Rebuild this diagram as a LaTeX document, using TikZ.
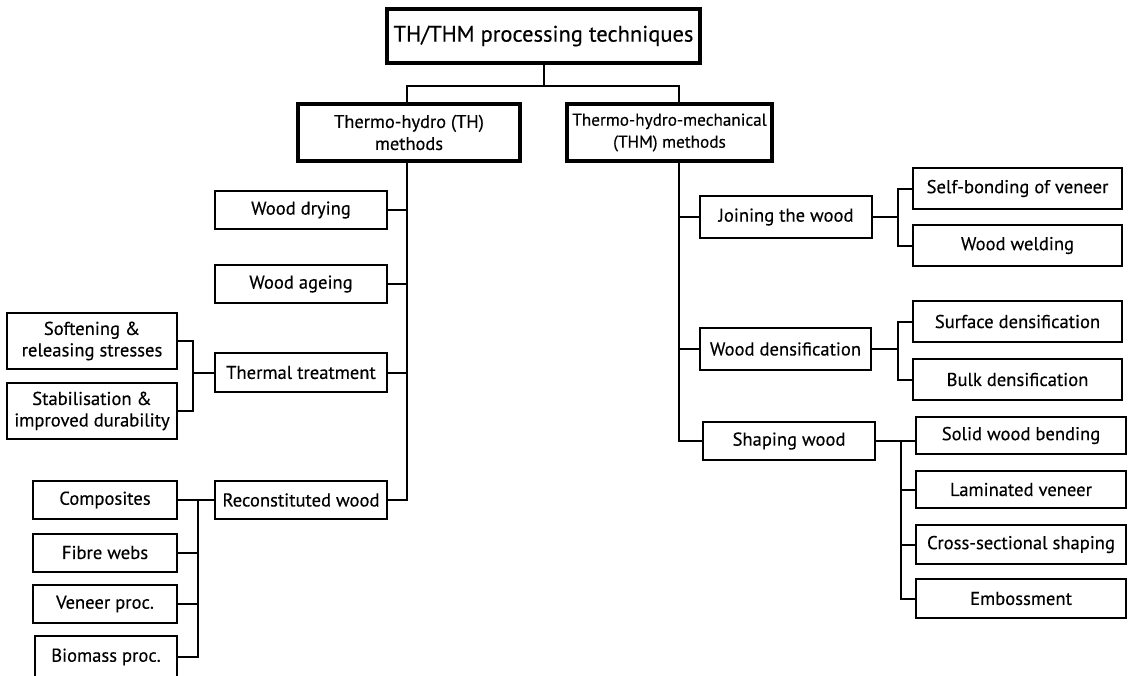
\documentclass[tikz,border=0pt]{standalone}
\usepackage{fontspec}
\setmainfont{PT Sans}[FakeBold=0.35]
\begin{document}
\begin{tikzpicture}[x=1pt,y=-1pt,
  bx/.style={draw, line width=2pt, inner sep=0pt, align=center, font=\fontsize{18.6}{21.5}\selectfont},
  thk/.style={bx, line width=3.4pt},
  ln/.style={line width=2pt}]
\useasboundingbox (0,0) rectangle (1129,675);
% boxes
\node[thk, minimum width=313pt, minimum height=54pt, font=\fontsize{22.5}{26}\selectfont] (top) at (543.5,36) {TH/THM processing techniques};
\node[thk, minimum width=222pt, minimum height=57pt, font=\fontsize{18.4}{22}\selectfont] (th) at (409,132.5) {Thermo-hydro (TH)\\methods};
\node[thk, minimum width=205pt, minimum height=57pt, font=\fontsize{17.2}{22}\selectfont] (thm) at (669.5,132.5) {Thermo-hydro-mechanical\\(THM) methods};
\node[bx, minimum width=172pt, minimum height=38pt] (dry) at (301,210) {Wood drying};
\node[bx, minimum width=172pt, minimum height=38pt] (age) at (301,284) {Wood ageing};
\node[bx, minimum width=172pt, minimum height=39pt] (therm) at (301,372.5) {Thermal treatment};
\node[bx, minimum width=172pt, minimum height=38pt] (recon) at (301,500) {Reconstituted wood};
\node[bx, minimum width=170pt, minimum height=56pt] (soft) at (92,341) {Softening \&\\releasing stresses};
\node[bx, minimum width=170pt, minimum height=56pt] (stab) at (92,411) {Stabilisation \&\\improved durability};
\node[bx, minimum width=144pt, minimum height=38pt] (comp) at (105,500) {Composites};
\node[bx, minimum width=144pt, minimum height=38pt] (fib) at (105,552.5) {Fibre webs};
\node[bx, minimum width=144pt, minimum height=38pt] (ven) at (105,604) {Veneer proc.};
\node[bx, minimum width=142pt, minimum height=42pt] (bio) at (106,657) {Biomass proc.};
\node[bx, minimum width=172pt, minimum height=42pt] (join) at (786,217) {Joining the wood};
\node[bx, minimum width=209pt, minimum height=41pt] (self) at (1017.5,188.5) {Self-bonding of veneer};
\node[bx, minimum width=209pt, minimum height=41pt] (weld) at (1017.5,245.5) {Wood welding};
\node[bx, minimum width=171pt, minimum height=42pt] (dens) at (785.5,349) {Wood densification};
\node[bx, minimum width=209pt, minimum height=41pt] (surf) at (1017.5,321.5) {Surface densification};
\node[bx, minimum width=209pt, minimum height=41pt] (bulk) at (1017.5,379.5) {Bulk densification};
\node[bx, minimum width=172pt, minimum height=38pt] (shape) at (789,441) {Shaping wood};
\node[bx, minimum width=210pt, minimum height=37pt] (solid) at (1021,435.5) {Solid wood bending};
\node[bx, minimum width=210pt, minimum height=37pt] (lam) at (1021,489.5) {Laminated veneer};
\node[bx, minimum width=210pt, minimum height=39pt] (cross) at (1021,544.5) {Cross-sectional shaping};
\node[bx, minimum width=210pt, minimum height=39pt] (emb) at (1021,598.5) {Embossment};
% junction coordinates
\coordinate (jt) at (543.5,86);
\coordinate (thv) at (407,0);
\coordinate (thmv) at (679,0);
\coordinate (tbx) at (193,0);
\coordinate (rbx) at (198,0);
\coordinate (jbx) at (898,0);
\coordinate (sbx) at (901,0);
% connectors
\draw[ln] (top.south) -- (jt);
\draw[ln] (th.north -| thv) -- (thv |- jt) -- (thmv |- jt) -- (thm.north -| thmv);
\draw[ln] (th.south -| thv) |- (recon.east);
\draw[ln] (dry.east) -- (dry.east -| thv);
\draw[ln] (age.east) -- (age.east -| thv);
\draw[ln] (therm.east) -- (therm.east -| thv);
\draw[ln] (therm.west) -- (therm.west -| tbx);
\draw[ln] (soft.east) -- (soft.east -| tbx) -- (stab.east -| tbx) -- (stab.east);
\draw[ln] (recon.west) -- (comp.east);
\draw[ln] (recon.west -| rbx) -- (bio.east -| rbx) -- (bio.east);
\draw[ln] (fib.east) -- (fib.east -| rbx);
\draw[ln] (ven.east) -- (ven.east -| rbx);
\draw[ln] (thm.south -| thmv) |- (shape.west);
\draw[ln] (join.west) -- (join.west -| thmv);
\draw[ln] (dens.west) -- (dens.west -| thmv);
\draw[ln] (join.east) -- (join.east -| jbx);
\draw[ln] (self.west) -- (self.west -| jbx) -- (weld.west -| jbx) -- (weld.west);
\draw[ln] (dens.east) -- (dens.east -| jbx);
\draw[ln] (surf.west) -- (surf.west -| jbx) -- (bulk.west -| jbx) -- (bulk.west);
\draw[ln] (shape.east) -- (shape.east -| solid.west);
\draw[ln] (shape.east -| sbx) -- (emb.west -| sbx) -- (emb.west);
\draw[ln] (lam.west) -- (lam.west -| sbx);
\draw[ln] (cross.west) -- (cross.west -| sbx);
\end{tikzpicture}
\end{document}
